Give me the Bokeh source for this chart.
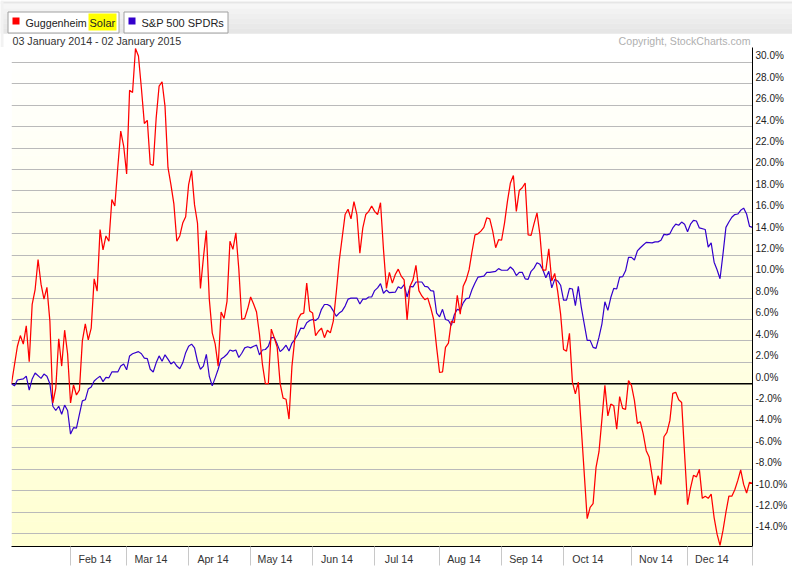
from bokeh.plotting import figure
from bokeh.models import Range1d, FixedTicker, CustomJSTickFormatter, Span
from bokeh.layouts import column
from bokeh.embed import file_html
from bokeh.resources import INLINE
from bokeh.core.properties import value

# ---------------- data (trading-day index from 03 Jan 2014, % change) ----------------
solar_day = [0, 2, 3, 4, 5, 6, 7, 8, 9, 10, 11, 12, 13, 14, 15, 16, 17, 18, 19, 20,
             21, 22, 23, 24, 25, 26, 27, 28, 29, 30, 31, 32, 33, 34, 35, 36, 37, 38, 39, 40,
             41, 42, 43, 44, 45, 46, 47, 48, 49, 50, 51, 52, 53, 54, 55, 56, 57, 58, 59, 60,
             61, 62, 63, 64, 65, 66, 67, 68, 69, 70, 71, 72, 73, 74, 75, 76, 77, 78, 79, 80,
             81, 82, 83, 84, 85, 86, 87, 88, 89, 90, 91, 92, 93, 94, 95, 96, 97, 98, 99, 100,
             101, 102, 103, 104, 105, 106, 107, 108, 109, 110, 111, 113, 114, 115, 116, 117, 118, 119, 120, 121,
             122, 123, 124, 125, 126, 127, 128, 129, 130, 131, 132, 133, 134, 135, 136, 137, 138, 139, 140, 141,
             142, 143, 144, 145, 146, 147, 148, 149, 150, 151, 152, 153, 154, 155, 156, 157, 158, 159, 160, 161,
             162, 163, 164, 165, 166, 167, 168, 169, 170, 171, 172, 173, 174, 175, 176, 177, 178, 179, 180, 181,
             182, 183, 184, 185, 186, 187, 188, 189, 190, 191, 192, 195, 196, 197, 198, 199, 200, 201, 202, 203,
             204, 205, 206, 207, 208, 209, 210, 211, 212, 213, 214, 215, 216, 217, 218, 219, 220, 221, 222, 223,
             224, 225, 226, 227, 228, 229, 230, 231, 232, 233, 234, 235, 236, 237, 238, 239, 240, 241, 242, 243,
             244, 245, 246, 247, 248, 249, 250, 251]
solar_pct = [0.0, 3.5, 4.5, 3.7, 5.4, 2.05, 7.4, 8.8, 11.6, 9.3, 7.9, 9.0, 5.85, -1.8, -0.4, 4.2, 1.65, 5.0, 2.8, -1.8,
             -0.1, -1.05, -0.6, 4.0, 5.6, 4.1, 5.2, 9.8, 8.65, 14.4, 12.5, 13.8, 13.3, 17.2, 16.6, 20.2, 23.6, 22.2, 19.6, 27.4,
             27.2, 31.3, 30.6, 27.6, 24.3, 24.6, 20.5, 20.4, 24.8, 27.8, 28.2, 25.9, 20.2, 18.6, 16.8, 13.3, 13.8, 15.0, 15.6, 18.6,
             19.9, 16.7, 15.0, 8.9, 11.75, 14.3, 7.9, 4.75, 3.7, 1.65, 6.7, 6.1, 7.7, 13.3, 12.55, 14.1, 10.7, 6.0, 6.1, 7.0,
             8.1, 7.45, 6.7, 4.6, 1.8, 0.0, 0.0, 5.1, 4.3, 3.4, 0.0, -1.35, -1.45, -3.3, 1.65, 4.3, 6.0, 6.5, 6.6, 9.4,
             6.8, 6.6, 4.5, 4.9, 5.2, 4.3, 5.0, 4.75, 5.85, 8.5, 11.45, 15.8, 16.3, 15.4, 17.0, 15.8, 12.2, 14.55, 15.8, 16.1,
             16.6, 16.1, 15.8, 16.9, 12.55, 8.9, 10.4, 9.4, 10.2, 10.7, 10.05, 9.7, 5.95, 9.1, 9.7, 11.05, 8.7, 8.2, 7.85, 8.0,
             7.1, 6.0, 3.4, 1.05, 1.1, 3.4, 3.8, 5.85, 5.7, 8.25, 6.5, 9.1, 9.7, 10.65, 12.35, 13.9, 14.0, 14.25, 14.6, 15.5,
             15.4, 14.25, 12.7, 13.45, 13.4, 15.0, 17.05, 18.75, 19.45, 16.1, 18.05, 18.3, 18.75, 13.9, 13.85, 14.95, 15.95, 13.9, 10.6, 10.6,
             12.6, 9.6, 10.3, 8.65, 6.5, 3.2, 3.05, 4.7, 0.15, -0.95, 0.15, -12.6, -11.55, -11.2, -7.8, -6.35, -3.3, -0.15, -3.0, -1.9,
             -2.05, -4.25, -1.2, -2.3, -2.4, 0.3, -0.15, -1.55, -3.7, -3.55, -4.7, -6.25, -6.85, -8.6, -10.4, -8.6, -9.4, -4.95, -4.55, -3.45,
             -0.9, -0.8, -1.5, -1.75, -6.6, -11.3, -9.75, -8.55, -8.7, -8.0, -10.7, -10.5, -10.7, -10.3, -12.5, -14.05, -15.1, -13.7, -12.0, -10.5,
             -10.5, -9.9, -9.05, -8.05, -9.4, -10.2, -9.2, -9.3]

spy_day = [0, 1, 2, 4, 5, 6, 7, 8, 10, 11, 12, 13, 14, 15, 16, 17, 18, 19, 20, 21,
           22, 23, 24, 25, 26, 27, 28, 29, 30, 31, 32, 33, 34, 36, 37, 38, 39, 40, 41, 43,
           44, 45, 46, 47, 48, 49, 50, 51, 52, 53, 54, 55, 56, 57, 58, 59, 60, 61, 62, 63,
           64, 65, 66, 67, 68, 69, 70, 71, 72, 73, 74, 75, 76, 77, 78, 79, 80, 81, 82, 83,
           84, 85, 86, 87, 88, 89, 90, 91, 92, 93, 94, 95, 96, 97, 98, 99, 100, 101, 102, 103,
           104, 105, 106, 107, 108, 109, 110, 111, 112, 113, 114, 115, 117, 118, 119, 120, 121, 122, 123, 124,
           125, 126, 127, 128, 130, 131, 132, 133, 134, 135, 136, 137, 139, 140, 141, 142, 143, 144, 145, 146,
           147, 148, 149, 150, 151, 152, 153, 154, 155, 156, 157, 158, 160, 161, 162, 164, 165, 166, 168, 169,
           170, 171, 172, 173, 174, 175, 176, 177, 178, 179, 180, 181, 182, 183, 184, 185, 186, 187, 188, 189,
           190, 191, 192, 193, 194, 195, 196, 197, 198, 199, 200, 201, 202, 203, 204, 205, 206, 207, 208, 209,
           210, 211, 212, 213, 214, 215, 217, 218, 219, 220, 221, 222, 223, 224, 225, 226, 227, 228, 229, 230,
           231, 232, 233, 235, 236, 237, 238, 239, 240, 241, 242, 243, 244, 245, 246, 247, 248, 249, 250, 251]
spy_pct = [0.0, -0.2, 0.35, 0.45, 0.7, -0.6, 0.45, 1.0, 0.5, 0.9, 0.7, 0.0, -2.1, -2.5, -2.1, -2.85, -2.0, -2.5, -4.7, -4.1,
           -4.15, -2.85, -1.6, -1.5, -0.5, -0.3, 0.25, 0.5, 0.7, 0.2, 0.6, 0.55, 1.1, 1.1, 1.65, 1.85, 1.3, 2.6, 2.8, 3.0,
           2.8, 2.4, 2.35, 1.35, 1.1, 1.95, 2.6, 2.1, 2.7, 2.3, 1.85, 2.05, 1.65, 1.4, 1.95, 2.9, 3.5, 3.7, 3.35, 2.1,
           1.35, 1.65, 2.75, 0.7, -0.2, 0.55, 1.35, 2.3, 2.5, 2.75, 3.15, 3.05, 3.15, 2.45, 2.85, 3.35, 3.45, 3.35, 3.5, 3.6,
           2.7, 3.15, 3.2, 3.5, 4.3, 4.3, 3.7, 3.0, 3.25, 3.6, 3.05, 3.8, 4.15, 4.6, 5.2, 5.15, 5.7, 5.9, 6.0, 5.9,
           6.15, 6.95, 7.4, 7.4, 7.25, 6.8, 6.3, 6.6, 6.8, 7.25, 7.9, 8.0, 8.0, 7.45, 7.9, 7.9, 8.1, 8.1, 8.7, 8.95,
           9.35, 8.45, 8.75, 8.5, 8.55, 9.05, 8.9, 9.25, 8.1, 9.1, 9.05, 9.5, 9.5, 9.1, 9.05, 8.7, 8.65, 6.6, 6.25, 6.95,
           6.0, 5.9, 5.45, 6.45, 6.95, 6.85, 7.55, 7.95, 8.0, 8.8, 9.4, 9.95, 10.05, 10.4, 10.4, 10.5, 10.75, 10.6, 10.6, 10.9,
           10.65, 10.1, 10.4, 10.4, 9.8, 9.75, 10.5, 10.8, 11.3, 11.15, 10.65, 9.9, 10.5, 8.95, 9.75, 9.6, 9.2, 7.8, 7.8, 8.9,
           8.85, 7.3, 9.1, 7.15, 5.6, 4.05, 4.05, 3.4, 3.3, 4.35, 5.6, 7.65, 6.85, 8.05, 8.9, 8.85, 9.95, 10.0, 10.55, 11.8,
           11.8, 11.55, 12.4, 12.7, 12.95, 13.2, 13.15, 13.25, 13.25, 13.4, 13.95, 13.9, 14.0, 14.55, 14.9, 14.8, 15.1, 14.9, 14.2, 14.9,
           15.25, 15.2, 14.55, 14.4, 12.75, 13.15, 11.35, 10.65, 9.8, 12.1, 14.6, 15.1, 15.55, 15.8, 15.85, 16.2, 16.4, 15.85, 14.7, 14.6]

month_labels = ["Feb 14", "Mar 14", "Apr 14", "May 14", "Jun 14", "Jul 14",
                "Aug 14", "Sep 14", "Oct 14", "Nov 14", "Dec 14"]
month_start_day = [20, 39, 60, 81, 102, 123, 145, 166, 187, 210, 229]
last_day = 251
y_levels = list(range(-14, 31, 2))

series_names = ["Guggenheim", "Solar", "S&P 500 SPDRs"]
subtitle = "03 January 2014 - 02 January 2015"
copyright_text = "Copyright, StockCharts.com"

RED = "#FF0000"
BLUE = "#3300CC"
FONT = value("Liberation Sans")
W = 792

# ---------------- header ----------------
HH = 47
hdr = figure(width=W, height=HH, x_range=Range1d(0, W), y_range=Range1d(HH, 0),
             output_backend="svg", toolbar_location=None, min_border=0,
             x_axis_location=None, y_axis_location=None)
hdr.frame_align = False
hdr.grid.visible = False
hdr.outline_line_color = None
hdr.border_fill_color = "white"
hdr.background_fill_color = "white"

# top strip, thin line and grey gradient band
hdr.quad(left=0, right=W, top=0, bottom=2, fill_color="#F2F2F2", line_color=None)
hdr.segment(x0=0, y0=2.5, x1=W, y1=2.5, line_color="#D4D4D4", line_width=1)
band_cols = ["#F6F6F6", "#F2F2F2", "#EFEFEF", "#ECECEC", "#E9E9E9", "#E6E6E6"]
nb = len(band_cols)
hdr.quad(left=0, right=W, top=[3 + i * 30 / nb for i in range(nb)],
         bottom=[3 + (i + 1) * 30 / nb + 0.3 for i in range(nb)],
         fill_color=band_cols, line_color=None)
hdr.quad(left=0, right=3, top=0, bottom=HH, fill_color="#F2F2F2", line_color=None)

# legend buttons
hdr.quad(left=[7.5, 123.5], right=[118.5, 227.5], top=[11.5, 11.5], bottom=[32.5, 32.5],
         fill_color="white", line_color="#A0A0A0", line_width=1)
hdr.quad(left=[12, 128], right=[19, 135], top=[17, 17], bottom=[24, 24],
         fill_color=[RED, BLUE], line_color=None)
hdr.quad(left=88, right=116, top=13, bottom=30, fill_color="#FFFF00", line_color=None)
hdr.text(x=[25], y=[22], text=[series_names[0]], text_baseline="middle", text_align="left",
         text_font=FONT, text_font_size="10.7px", text_color="#222222")
hdr.text(x=[89, 141], y=[22, 22], text=series_names[1:], text_baseline="middle", text_align="left",
         text_font=FONT, text_font_size="11px", text_color="#222222")
hdr.text(x=[12], y=[40.5], text=[subtitle], text_baseline="middle", text_font=FONT,
         text_font_size="10.7px", text_color="#333333")
hdr.text(x=[750], y=[40], text=[copyright_text], text_baseline="middle", text_align="right",
         text_font=FONT, text_font_size="10.6px", text_color="#B0B0B0")

# ---------------- main chart ----------------
ymin, ymax = -15.2, 31.4
p = figure(width=W, height=527, x_range=Range1d(0, last_day), y_range=Range1d(ymin, ymax),
           output_backend="svg", toolbar_location=None, y_axis_location="right",
           min_border_left=11, min_border_right=40, min_border_top=0, min_border_bottom=28)
p.frame_align = False
p.outline_line_color = None
p.background_fill_color = "white"
p.border_fill_color = "white"

# vertical white -> pale yellow background
nbands = 60
tops, bots, cols = [], [], []
for i in range(nbands):
    t = ymax - (ymax - ymin) * i / nbands
    b = ymax - (ymax - ymin) * (i + 1) / nbands
    f = (i + 0.5) / nbands
    bl = int(round(255 - (255 - 210) * f))
    tops.append(t + 0.02)
    bots.append(b - 0.02)
    cols.append("#FFFF%02X" % bl)
p.quad(left=0, right=last_day, top=tops, bottom=bots, fill_color=cols, line_color=None, level="image")

p.xgrid.visible = False
p.ygrid.ticker = FixedTicker(ticks=[v for v in y_levels if v != 0])
p.ygrid.grid_line_color = "#BABABA"
p.ygrid.grid_line_width = 1
p.add_layout(Span(location=0, dimension="width", line_color="black", line_width=1.4, level="underlay"))

p.line(spy_day, spy_pct, line_color=BLUE, line_width=1.2)
p.line(solar_day, solar_pct, line_color=RED, line_width=1.25)

# right axis
ya = p.yaxis[0]
ya.ticker = FixedTicker(ticks=[v + 0.625 for v in y_levels])
ya.formatter = CustomJSTickFormatter(code="return (tick - 0.625).toFixed(1) + '%';")
ya.major_tick_out = 0
ya.major_tick_in = 0
ya.minor_tick_out = 0
ya.minor_tick_in = 0
ya.axis_line_color = "black"
ya.major_label_standoff = 3
ya.major_label_text_font = "Liberation Sans"
ya.major_label_text_font_size = "10px"
ya.major_label_text_color = "#222222"

# bottom axis
xa = p.xaxis[0]
label_pos = [d + 8.25 for d in month_start_day]
xa.ticker = FixedTicker(ticks=label_pos, minor_ticks=month_start_day + [last_day])
xa.major_label_overrides = {pos: lab for pos, lab in zip(label_pos, month_labels)}
xa.major_tick_out = 0
xa.major_tick_in = 0
xa.minor_tick_out = 19
xa.minor_tick_in = 0
xa.minor_tick_line_color = "#C8C8C8"
xa.axis_line_color = "black"
xa.major_label_standoff = -13
xa.major_label_text_font = "Liberation Sans"
xa.major_label_text_font_size = "10.6px"
xa.major_label_text_color = "#333333"

layout = column(hdr, p)
open("out.html", "w").write(file_html(layout, INLINE))
